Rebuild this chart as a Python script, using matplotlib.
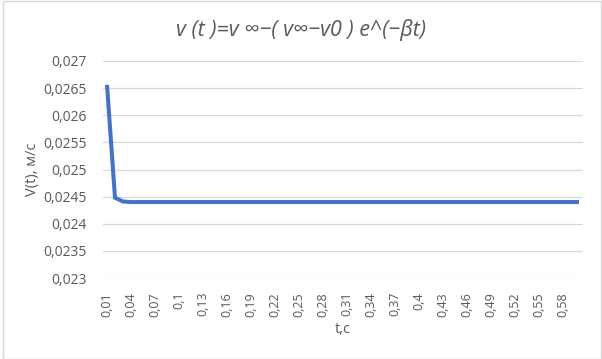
import matplotlib
matplotlib.use('Agg')
import matplotlib.pyplot as plt
from matplotlib.patches import Rectangle

plt.rcParams['font.family'] = ['Open Sans', 'DejaVu Sans']

# data: t (s) and V(t) (m/s)
t_values = [round(0.01 * (i + 1), 2) for i in range(60)]
v_values = [0.02656, 0.02448, 0.02441, 0.0244, 0.0244, 0.0244, 0.0244, 0.0244, 0.0244, 0.0244,
            0.0244, 0.0244, 0.0244, 0.0244, 0.0244, 0.0244, 0.0244, 0.0244, 0.0244, 0.0244,
            0.0244, 0.0244, 0.0244, 0.0244, 0.0244, 0.0244, 0.0244, 0.0244, 0.0244, 0.0244,
            0.0244, 0.0244, 0.0244, 0.0244, 0.0244, 0.0244, 0.0244, 0.0244, 0.0244, 0.0244,
            0.0244, 0.0244, 0.0244, 0.0244, 0.0244, 0.0244, 0.0244, 0.0244, 0.0244, 0.0244,
            0.0244, 0.0244, 0.0244, 0.0244, 0.0244, 0.0244, 0.0244, 0.0244, 0.0244, 0.0244]
y_ticks = [0.023, 0.0235, 0.024, 0.0245, 0.025, 0.0255, 0.026, 0.0265, 0.027]

TEXT = '#595959'
GRID = '#d9d9d9'
LINE = '#4472C4'


def comma(v):
    return f"{v:g}".replace('.', ',')


fig = plt.figure(figsize=(6.02, 3.59), dpi=100)
ax = fig.add_axes([103 / 602, 1 - 278 / 359, 480 / 602, 217 / 359])

x = list(range(len(t_values)))
ax.plot(x, v_values, color=LINE, linewidth=2.9, solid_capstyle='butt', solid_joinstyle='miter')

ax.set_xlim(-0.5, len(t_values) - 0.5)
ax.set_ylim(0.023, 0.027)
ax.set_yticks(y_ticks)
ax.set_yticklabels([comma(v) for v in y_ticks], fontsize=10, color=TEXT)
ax.set_xticks(x[::3])
ax.set_xticklabels([comma(t) for t in t_values[::3]], rotation=90, fontsize=9, color=TEXT)
ax.tick_params(length=0)
ax.tick_params(axis='x', pad=10)
ax.tick_params(axis='y', pad=12)

ax.grid(True, axis='y', color=GRID, linewidth=0.9)
ax.set_axisbelow(True)
for s in ax.spines.values():
    s.set_visible(False)

ax.set_xlabel('t,c', fontsize=10.5, color=TEXT, labelpad=4)
ax.set_ylabel('V(t), м/с', fontsize=10.5, color=TEXT, labelpad=2)

fig.text(0.5, 1 - 30 / 359, 'v (t )=v ∞−( v∞−v0 ) e^(−βt)', ha='center', va='center',
         fontsize=15.5, style='italic', color=TEXT)

fig.patches.append(Rectangle((3 / 602, 0), 598 / 602, 358 / 359, transform=fig.transFigure,
                             fill=False, edgecolor=GRID, linewidth=1))

fig.savefig('out.png', dpi=100)
